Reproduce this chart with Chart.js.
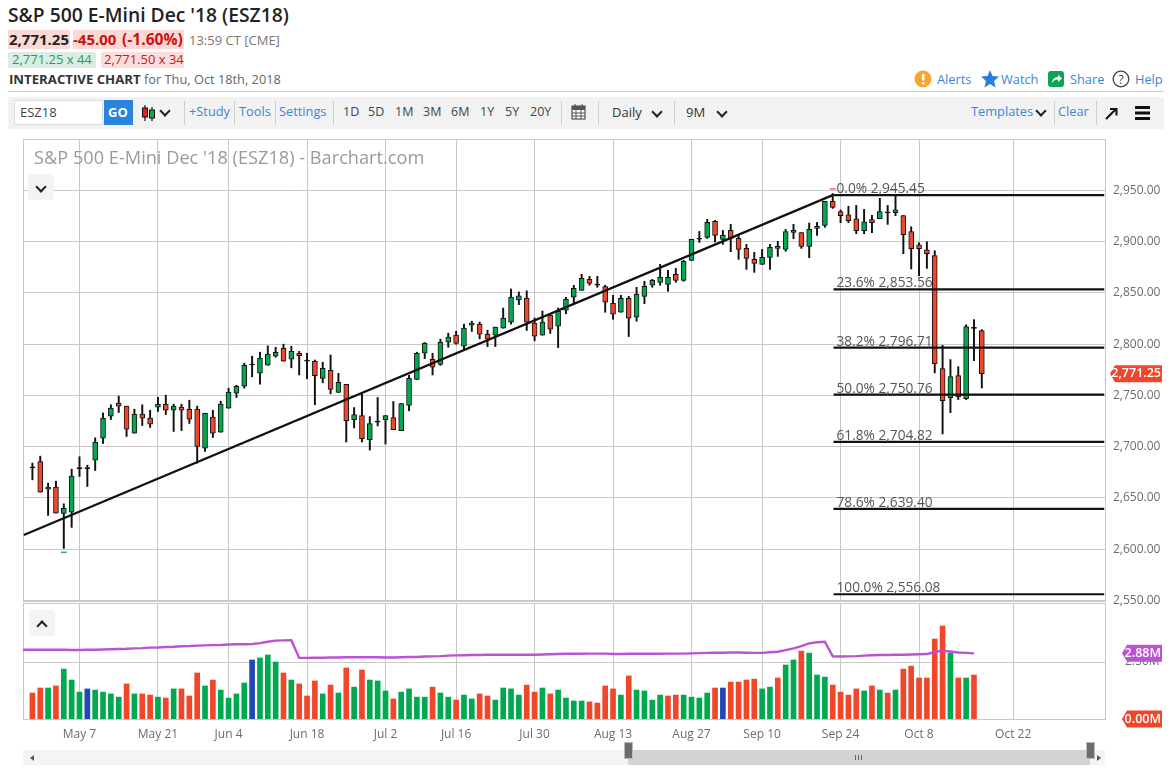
<!DOCTYPE html>
<html><head><meta charset="utf-8">
<script src="https://cdn.jsdelivr.net/npm/chart.js@4"></script>
<style>
html,body{margin:0;padding:0;background:#fff;width:1176px;height:772px;overflow:hidden;font-family:"Open Sans",sans-serif;}
.t{position:absolute;white-space:nowrap;line-height:1;}
.b{position:absolute;}
.blue{color:#3a87d8;font-size:12.8px;}
.dark{color:#444;font-size:12.5px;}
canvas{position:absolute;left:0;}
.div{position:absolute;width:1px;background:#cfcfcf;top:101px;height:24px;}
.chev{position:absolute;width:6px;height:6px;border-right:2px solid #222;border-bottom:2px solid #222;transform:rotate(45deg);}
.cb{position:absolute;width:26px;height:26px;border-radius:4px;background:#f3f3f3;}
</style></head><body>
<div class="t" style="left:8px;top:5px;font-size:19.3px;font-weight:600;color:#222;">S&amp;P 500 E-Mini Dec '18 (ESZ18)</div>
<div class="b" style="left:8px;top:30px;width:62px;height:19px;background:#fdd9d6;"></div>
<div class="b" style="left:73px;top:30px;width:111px;height:19px;background:#fdd9d6;"></div>
<div class="t" style="left:9px;top:32px;font-size:15px;font-weight:700;color:#222;">2,771.25</div>
<div class="t" style="left:73px;top:32px;font-size:15px;font-weight:700;color:#cc1111;">-45.00</div>
<div class="t" style="left:122px;top:32px;font-size:15.6px;font-weight:700;color:#cc1111;">(-1.60%)</div>
<div class="t" style="left:189px;top:34px;font-size:13px;color:#777;">13:59 CT [CME]</div>
<div class="b" style="left:8px;top:52px;width:88px;height:16px;background:#dcebe3;border-radius:2px;"></div>
<div class="b" style="left:101px;top:52px;width:83px;height:16px;background:#fbdedb;border-radius:2px;"></div>
<div class="t" style="left:12px;top:53px;font-size:13px;color:#1ba25a;">2,771.25 x 44</div>
<div class="t" style="left:104px;top:53px;font-size:13px;color:#d01616;">2,771.50 x 34</div>
<div class="t" style="left:9px;top:73px;font-size:13.2px;font-weight:700;color:#333;">INTERACTIVE CHART</div>
<div class="t" style="left:144px;top:73px;font-size:12.8px;color:#666;">for Thu, Oct 18th, 2018</div>
<div class="b" style="left:8px;top:91px;width:1156px;height:1px;background:#ccc;"></div>

<svg class="b" style="left:914px;top:70px" width="18" height="18"><circle cx="9" cy="9" r="8.5" fill="#f9a72b"/><rect x="8" y="4" width="2.4" height="6.5" fill="#fff"/><rect x="8" y="12" width="2.4" height="2.4" fill="#fff"/></svg>
<div class="t blue" style="left:937px;top:73px;">Alerts</div>
<svg class="b" style="left:981px;top:70px" width="18" height="18"><polygon points="9,0 11.5,6 18,6.6 13,11 14.6,17.6 9,14 3.4,17.6 5,11 0,6.6 6.5,6" fill="#2a7fdb"/></svg>
<div class="t blue" style="left:1001px;top:73px;">Watch</div>
<svg class="b" style="left:1048px;top:71px" width="16" height="16"><rect width="16" height="16" rx="3" fill="#0aa650"/><path d="M4 12 C4 8 7 6 10 6 V3.5 L14 7.5 L10 11 V8.6 C7.5 8.6 5.5 9.6 4 12Z" fill="#fff"/></svg>
<div class="t blue" style="left:1070px;top:73px;">Share</div>
<svg class="b" style="left:1112px;top:70px" width="18" height="18"><circle cx="9" cy="9" r="7.8" fill="none" stroke="#444" stroke-width="1.3"/><text x="9" y="13.5" font-size="12" text-anchor="middle" fill="#444" font-family="Open Sans">?</text></svg>
<div class="t blue" style="left:1135px;top:73px;">Help</div>

<div class="b" style="left:8px;top:97px;width:1156px;height:32px;background:#f2f2f2;"></div>
<div class="b" style="left:14px;top:100px;width:89px;height:25px;background:#fff;border:1px solid #ddd;box-sizing:border-box;"></div>
<div class="t dark" style="left:20px;top:106px;font-size:13px;">ESZ18</div>
<div class="b" style="left:104px;top:100px;width:29px;height:25px;background:#2a84dc;"></div>
<div class="t" style="left:108px;top:106px;font-size:13px;font-weight:700;color:#fff;">GO</div>
<svg class="b" style="left:141px;top:104px" width="16" height="18"><path d="M4 1V17M11 3V17" stroke="#111" stroke-width="1.2"/><rect x="1.5" y="4" width="5" height="9" fill="#e02020" stroke="#111"/><rect x="8.5" y="6" width="5" height="8" fill="#12a650" stroke="#111"/></svg>
<div class="chev" style="left:161px;top:107px;"></div>
<div class="div" style="left:184px;"></div>
<div class="t blue" style="left:189px;top:105px;">+Study</div>
<div class="div" style="left:234px;"></div>
<div class="t blue" style="left:239px;top:105px;">Tools</div>
<div class="div" style="left:275px;"></div>
<div class="t blue" style="left:279px;top:105px;">Settings</div>
<div class="div" style="left:333px;"></div>
<div class="t dark" style="left:343px;top:106px;">1D</div>
<div class="t dark" style="left:368px;top:106px;">5D</div>
<div class="t dark" style="left:395px;top:106px;">1M</div>
<div class="t dark" style="left:423px;top:106px;">3M</div>
<div class="t dark" style="left:451px;top:106px;">6M</div>
<div class="t dark" style="left:480px;top:106px;">1Y</div>
<div class="t dark" style="left:505px;top:106px;">5Y</div>
<div class="t dark" style="left:530px;top:106px;">20Y</div>
<div class="div" style="left:561px;"></div>
<svg class="b" style="left:571px;top:103px" width="15" height="17"><rect x="1" y="3" width="13" height="13" fill="#fff" stroke="#333"/><rect x="1" y="3" width="13" height="4" fill="#555"/><path d="M4 1V4M11 1V4M1 10H14M1 13H14M5 7V16M10 7V16" stroke="#555"/></svg>
<div class="div" style="left:598px;"></div>
<div class="t" style="left:612px;top:106px;font-size:13px;color:#333;">Daily</div>
<div class="chev" style="left:653px;top:108px;"></div>
<div class="div" style="left:674px;"></div>
<div class="t" style="left:686px;top:106px;font-size:13px;color:#333;">9M</div>
<div class="chev" style="left:718px;top:108px;"></div>
<div class="t blue" style="left:971px;top:105px;">Templates</div>
<div class="chev" style="left:1037px;top:107px;"></div>
<div class="div" style="left:1054px;"></div>
<div class="t blue" style="left:1058px;top:105px;">Clear</div>
<div class="div" style="left:1096px;"></div>
<svg class="b" style="left:1105px;top:107px" width="13" height="13"><path d="M1 12L11 2M5 2H11.5V8.5" fill="none" stroke="#111" stroke-width="2"/></svg>
<div class="b" style="left:1135px;top:106px;width:15px;height:3px;background:#111;box-shadow:0 5.5px 0 #111,0 11px 0 #111;"></div>

<canvas id="priceChart" width="1176" height="480" style="top:130px;"></canvas>
<canvas id="volumeChart" width="1176" height="160" style="top:595px;"></canvas>

<div class="t" style="left:34px;top:148px;font-size:18.2px;color:#9a9a9a;">S&amp;P 500 E-Mini Dec '18 (ESZ18) - Barchart.com</div>
<div class="cb" style="left:28px;top:174px;"></div><div class="chev" style="left:37px;top:183px;"></div>
<div class="cb" style="left:29px;top:610px;"></div><div class="chev" style="left:38px;top:622px;transform:rotate(225deg);"></div>

<div class="b" style="left:23px;top:750px;width:605px;height:15px;background:#f4f4f4;"></div>
<div class="b" style="left:628px;top:750px;width:462px;height:15px;background:#d2d3d3;"></div>
<div class="b" style="left:1090px;top:750px;width:15px;height:15px;background:#f4f4f4;"></div>
<div class="b" style="left:30px;top:755px;border:3px solid transparent;border-right:4px solid #555;border-left:0;"></div>
<div class="b" style="left:1097px;top:755px;border:3px solid transparent;border-left:4px solid #555;border-right:0;"></div>
<div class="b" style="left:624px;top:742px;width:7px;height:15px;background:#6c6c6c;border:1px solid #bbb;"></div>
<div class="b" style="left:1086px;top:742px;width:7px;height:15px;background:#6c6c6c;border:1px solid #bbb;"></div>
<div class="b" style="left:855px;top:755px;width:1px;height:5px;background:#666;box-shadow:3px 0 0 #666,6px 0 0 #666;"></div>

<script>
// ---- tick labels ----
const tickIndices = [6,16,25,35,45,54,64,74,84,93,103,113,125];
const tickLabels = ['May 7','May 21','Jun 4','Jun 18','Jul 2','Jul 16','Jul 30','Aug 13','Aug 27','Sep 10','Sep 24','Oct 8','Oct 22'];
const priceTicks = [2550,2600,2650,2700,2750,2800,2850,2900,2950];
const volumeTicks = [2.5];

// ---- price series, one entry per trading day ----
const opens = [2679.8,2685.6,2658.6,2660.6,2635,2636.2,2679.1,2679.1,2686.9,2708.4,2729.8,2742.5,2739.6,2713.2,2731.8,2727.9,2738.6,2741.5,2735.6,2738.6,2736.6,2736.6,2698.6,2728.8,2714.2,2737.6,2752.2,2759,2780.2,2771.7,2779.5,2788.3,2796.1,2785.4,2791.2,2784,2783.3,2766.7,2774.5,2752.9,2760.8,2726.5,2730.4,2706.9,2724.5,2726.5,2728.4,2715.7,2740.2,2765.7,2791.2,2785.3,2780.4,2802,2808.8,2798,2818.6,2819.6,2809.8,2808.8,2815.7,2821.6,2843.1,2845.1,2820.6,2808.8,2828.4,2817.6,2833.3,2845.8,2852.6,2863.3,2858.1,2856.2,2839.9,2831.2,2844.8,2826.3,2846.7,2857.5,2860.4,2858.4,2868.2,2862.3,2881.8,2902.9,2904.2,2919.8,2902.3,2911,2903.2,2893.5,2882.8,2877.9,2884.7,2895.4,2892.5,2909,2909,2895.4,2913,2915.9,2939.3,2929.3,2926.3,2922.4,2910.7,2921.5,2922.4,2928.6,2928.3,2925.4,2909.8,2897,2892.2,2886.4,2776.2,2747.9,2769.4,2746.9,2816,2813.2];
const highs = [2684,2690.8,2664.5,2666.4,2644.3,2678.1,2690.2,2682,2708.7,2733,2740.9,2749.3,2739.6,2736.6,2740.9,2735.6,2748.3,2750.3,2741.5,2741.5,2745.4,2739.6,2732.7,2735.6,2744.4,2757.1,2760,2781.5,2788.3,2792.2,2798.4,2797,2800,2798,2793,2791.2,2784.6,2782.4,2789.5,2771.6,2760.8,2738.2,2752,2729.4,2748,2730.4,2744.1,2742.2,2769.6,2792.2,2801.6,2791.2,2804.9,2810.8,2812.7,2819.6,2822.5,2821.6,2813.7,2816.7,2835.3,2853.9,2851,2852,2825.5,2832.4,2828.4,2835.3,2845.8,2857.5,2868.2,2866.2,2866.2,2857.5,2847.7,2847.7,2846.7,2855.5,2861.4,2863.3,2877.9,2872.1,2874,2881.8,2902.3,2910,2921.8,2920.8,2911,2916.9,2906.2,2897.4,2889.6,2892.5,2897.4,2900.3,2912,2916.9,2909,2918.2,2918.8,2939.3,2947,2931,2934.5,2935.4,2931.5,2925.7,2942.3,2935.4,2944.2,2925.4,2914.6,2899,2900,2891.2,2798.9,2785,2778.1,2819,2824,2814.2];
const lows = [2667.7,2655.7,2633,2635.2,2600.8,2621.3,2671,2661.2,2676.8,2703.2,2726.6,2733.4,2710,2713.2,2720.7,2718.8,2734.4,2731.4,2714.9,2715.8,2722.7,2684,2695.4,2709,2714.2,2737.6,2748,2757.1,2768.2,2761,2779.5,2787.3,2783.4,2777,2770,2766.3,2740.9,2762.4,2751.6,2752.9,2704.6,2718.3,2704.6,2696.7,2720.3,2702.6,2716.7,2715.7,2735,2765.7,2786,2770,2779.4,2797,2800,2794.4,2812.4,2805.2,2797.7,2797.7,2815.7,2819.6,2838.6,2813.4,2803.3,2808.8,2810.5,2796.7,2829.7,2840,2852.6,2857.5,2855.5,2831.2,2824.3,2831.2,2807.5,2822.4,2839.6,2855.5,2857.5,2851.6,2860.4,2861.4,2881.8,2899.3,2903.2,2899.7,2897.4,2890.3,2882.8,2873,2870.1,2877.9,2873,2885.7,2890.6,2902.9,2893.5,2884.4,2906.2,2914,2932.5,2918.5,2918.5,2907.8,2907.8,2908.8,2922.4,2916.9,2925.4,2888.3,2873.4,2866.9,2874,2772,2712.5,2733.3,2746,2746,2784,2757.3];
const closes = [2679.8,2655.7,2660.6,2635.2,2640,2671.3,2679.1,2679.1,2704.5,2727.9,2737.6,2739.6,2717.1,2731.8,2727.9,2722,2741.5,2735.6,2739.6,2735.6,2726.9,2700.2,2732.7,2713.2,2741.5,2753.2,2759,2779.5,2780.2,2786.4,2790.3,2792.2,2783.4,2793.2,2788.9,2784,2769.3,2776.5,2755.9,2762.7,2725.5,2731.4,2707.8,2722.5,2724.5,2730.4,2716.7,2742.2,2766.7,2791.2,2801,2777.5,2802,2806.9,2800.7,2815.7,2820.6,2809.8,2804.9,2816.7,2825.5,2846.1,2847.1,2821.6,2807.8,2821.6,2814.7,2832.4,2844.1,2854.5,2864.3,2859.4,2858.1,2840.9,2829.2,2844.8,2825.3,2848.7,2856.5,2862.3,2865.3,2865.3,2862.3,2880.8,2902.3,2902.9,2918.8,2906.2,2906.2,2903.2,2892.5,2883.8,2878.9,2884.7,2894.5,2893.5,2910,2911,2895.4,2912,2914.9,2939.3,2933.4,2925.4,2920.5,2910.7,2919.5,2918.5,2929.3,2928.6,2931.2,2906.8,2893.2,2893.2,2888.3,2781,2745,2768.4,2748.9,2817.1,2816,2771.3];
const lastPrice = 2771.25;
const highLowMarks = [{x:4,y:2597,c:'#2fb36c'},{x:102,y:2951.5,c:'#f0604a'}];

// ---- trendline and Fibonacci retracement ----
const trendX = [-1.1,102];
const trendY = [2613.9,2945.45];
const fibStartX = 102.1, fibEndX = 136.6;
const fibValues = [2945.45,2853.56,2796.71,2750.76,2704.82,2639.40,2556.08];
const fibNames = ['0.0%','23.6%','38.2%','50.0%','61.8%','78.6%','100.0%'];

// ---- volume series (millions) ----
const volumes = [1.14,1.36,1.36,1.45,2.19,1.71,1.18,1.32,1.27,1.18,1.10,.96,1.54,1.10,1.10,1.05,.96,.92,1.32,1.32,1.01,2.02,1.45,1.71,1.27,.92,1.10,1.58,2.59,2.68,2.81,2.50,2.02,1.71,1.54,1.01,1.67,1.10,1.49,1.14,2.24,1.40,2.15,1.71,1.67,1.23,.88,1.18,1.32,.96,.96,1.40,1.14,.96,.83,1.05,.88,1.10,1.01,.83,1.36,1.32,1.05,1.49,1.18,1.36,1.10,1.27,.92,.79,.79,.75,.70,1.45,1.32,1.05,1.89,1.27,1.23,.83,1.05,1.01,1.05,1.05,.96,.92,1.14,1.36,1.36,1.62,1.62,1.71,1.75,1.32,1.40,1.80,2.37,2.59,2.98,2.89,1.93,1.84,1.49,1.18,1.05,1.32,1.23,1.45,1.27,1.14,1.27,2.19,2.32,1.80,1.80,3.51,4.08,2.89,1.80,1.80,1.93];
const volumeKinds = ['r','r','g','r','g','g','g','b','g','g','g','g','r','g','r','r','g','r','g','r','r','r','g','r','g','g','g','g','b','g','g','g','r','g','r','r','r','g','r','g','r','g','r','g','g','g','r','g','g','g',
'g','r','g','g','r','g','g','r','r','g','g','g','g','r','r','g','r','g','g','g','g','r','r','r','r','g','r','g','g','g','g','r','r','g','g','g','g','r','b','r','r','r','r','g','g','r','g','g','r','g','g','g','r','r','r','r','g','r','g','r','g','r','r','r','r','r','r','g','r','g','r'];
const volumeAverage = [3.04,3.04,3.04,3.04,3.04,3.03,3.03,3.04,3.04,3.05,3.06,3.07,3.08,3.10,3.11,3.13,3.14,3.16,3.17,3.19,3.20,3.22,3.23,3.24,3.25,3.27,3.28,3.28,3.29,3.33,3.39,3.44,3.45,3.46,2.68,2.68,2.69,2.69,2.70,2.70,2.71,2.71,2.71,2.71,2.71,2.70,2.70,2.71,2.72,2.72,2.74,2.75,2.76,2.78,2.79,2.80,2.81,2.81,2.82,2.82,2.82,2.82,2.82,2.82,2.82,2.83,2.84,2.85,2.86,2.86,2.86,2.87,2.87,2.87,2.85,2.85,2.86,2.86,2.86,2.86,2.86,2.87,2.87,2.87,2.88,2.89,2.90,2.91,2.91,2.92,2.92,2.91,2.90,2.90,2.93,2.95,3.02,3.10,3.20,3.32,3.37,3.39,2.75,2.74,2.75,2.76,2.78,2.80,2.81,2.81,2.82,2.82,2.83,2.84,2.85,2.94,3.00,2.96,2.92,2.90,2.88];
const averageBeforeFirstDay = 3.04;
const lastAverage = 2.88, lastVolumeTag = 0;

const RED='#f0462a', GREEN='#00a94f', BLUE='#2049b5', PURPLE='#bb52d3', GRID='#c8c8c8';
const FONT='"Open Sans"';
const TICK='#6c6c6c';
const xMin=-1.2, xMax=136.7;
const kindColor={r:RED,g:GREEN,b:BLUE};
const noEdgePad=s=>{s.paddingTop=0;s.paddingBottom=0;s.paddingLeft=0;s.paddingRight=0;};

function xAxis(showLabels){
  return {type:'linear',min:xMin,max:xMax,offset:false,
    afterBuildTicks(s){s.ticks=tickIndices.map(v=>({value:v}));},
    grid:{color:GRID,lineWidth:1,drawTicks:false,offset:false},border:{display:false},
    afterFit(s){noEdgePad(s);if(showLabels)s.height=36;},
    ticks:{display:showLabels,autoSkip:false,maxRotation:0,minRotation:0,padding:8,color:TICK,font:{family:FONT,size:12},
      callback:v=>tickLabels[tickIndices.indexOf(v)]}};
}
function yFit(s){noEdgePad(s);s.width=71;}
const frame={id:'frame',beforeDatasetsDraw(c){const a=c.chartArea,x=c.ctx;x.save();x.strokeStyle=GRID;x.lineWidth=1;
  x.strokeRect(Math.round(a.left)+.5,Math.round(a.top)+.5,Math.round(a.width),Math.round(a.height));x.restore();}};

function tag(ctx,right,cy,w,h,fill,text,size){
  ctx.save();ctx.fillStyle=fill;ctx.beginPath();
  ctx.moveTo(right-w,cy);ctx.lineTo(right-w+5,cy-h/2);ctx.lineTo(right,cy-h/2);ctx.lineTo(right,cy+h/2);ctx.lineTo(right-w+5,cy+h/2);ctx.closePath();ctx.fill();
  ctx.fillStyle='#fff';ctx.font='600 '+size+'px '+FONT;ctx.textAlign='right';ctx.textBaseline='middle';ctx.fillText(text,right-1,cy);ctx.restore();
}
const fmt2=v=>v.toLocaleString('en-US',{minimumFractionDigits:2,maximumFractionDigits:2});

const priceOverlay={id:'priceOverlay',afterDraw(c){
  const y=c.scales.y,x=c.scales.x,ctx=c.ctx;
  ctx.save();ctx.fillStyle='#555';ctx.font='13.7px '+FONT;ctx.textAlign='left';ctx.textBaseline='alphabetic';
  fibValues.forEach((v,i)=>ctx.fillText(fibNames[i]+' '+fmt2(v),x.getPixelForValue(fibStartX)+3,y.getPixelForValue(v)-2));
  ctx.restore();
  tag(ctx,1162,y.getPixelForValue(lastPrice),52,17,RED,fmt2(lastPrice),12.5);
}};
const volumeOverlay={id:'volumeOverlay',afterDraw(c){
  const y=c.scales.y,ctx=c.ctx;
  tag(ctx,1162,y.getPixelForValue(lastAverage),40,17,PURPLE,lastAverage.toFixed(2)+'M',12.5);
  tag(ctx,1162,y.getPixelForValue(lastVolumeTag),40,17,RED,lastVolumeTag.toFixed(2)+'M',12.5);
}};

const isDoji=i=>opens[i]===closes[i];
new Chart(document.getElementById('priceChart'),{
  type:'bar',
  data:{datasets:[
    ...fibValues.map(v=>({type:'line',order:0,data:[{x:fibStartX,y:v},{x:fibEndX,y:v}],borderColor:'#111',borderWidth:2.2,pointRadius:0})),
    {type:'line',order:0,data:trendX.map((vx,i)=>({x:vx,y:trendY[i]})),borderColor:'#111',borderWidth:2.2,pointRadius:0,clip:true},
    {type:'line',order:0,data:highLowMarks.map(m=>({x:m.x,y:m.y})),showLine:false,pointStyle:'line',pointRadius:3,pointBorderWidth:1.5,pointBorderColor:highLowMarks.map(m=>m.c)},
    {order:1,grouped:false,barThickness:5,borderSkipped:false,borderWidth:1,borderColor:'#111',
      data:opens.map((o,i)=>({x:i,y:isDoji(i)?[o-.5,o+.5]:[o,closes[i]]})),
      backgroundColor:opens.map((o,i)=>isDoji(i)?'#111':(closes[i]>o?GREEN:RED))},
    {order:2,grouped:false,barThickness:1.3,borderWidth:0,backgroundColor:'#111',
      data:lows.map((l,i)=>({x:i,y:[l,highs[i]]}))}
  ]},
  options:{responsive:false,animation:false,events:[],
    layout:{padding:{left:23,top:9,bottom:9,right:0}},
    plugins:{legend:{display:false},tooltip:{enabled:false}},
    scales:{
      x:xAxis(false),
      y:{position:'right',min:2549.5,max:3000.2,afterFit:yFit,
        afterBuildTicks(s){s.ticks=priceTicks.map(v=>({value:v}));},
        grid:{color:GRID,lineWidth:1,drawTicks:false},border:{display:false},
        ticks:{padding:8,color:TICK,font:{family:FONT,size:12},callback:fmt2}}
    }
  },
  plugins:[frame,priceOverlay]
});

new Chart(document.getElementById('volumeChart'),{
  type:'bar',
  data:{datasets:[
    {type:'line',order:0,data:[{x:xMin,y:averageBeforeFirstDay},...volumeAverage.map((v,i)=>({x:i,y:v}))],borderColor:PURPLE,borderWidth:2.4,pointRadius:0,tension:0},
    {order:1,grouped:false,barThickness:5,borderWidth:0,data:volumes.map((v,i)=>({x:i,y:v})),
      backgroundColor:volumes.map((v,i)=>kindColor[volumeKinds[i]])}
  ]},
  options:{responsive:false,animation:false,events:[],
    layout:{padding:{left:23,top:8,bottom:0,right:0}},
    plugins:{legend:{display:false},tooltip:{enabled:false}},
    scales:{
      x:xAxis(true),
      y:{position:'right',min:0,max:5.09,afterFit:yFit,
        afterBuildTicks(s){s.ticks=volumeTicks.map(v=>({value:v}));},
        grid:{color:GRID,lineWidth:1,drawTicks:false},border:{display:false},
        ticks:{padding:20,color:TICK,font:{family:FONT,size:12},callback:v=>v.toFixed(2)+'M'}}
    }
  },
  plugins:[frame,volumeOverlay]
});
</script>
</body></html>
